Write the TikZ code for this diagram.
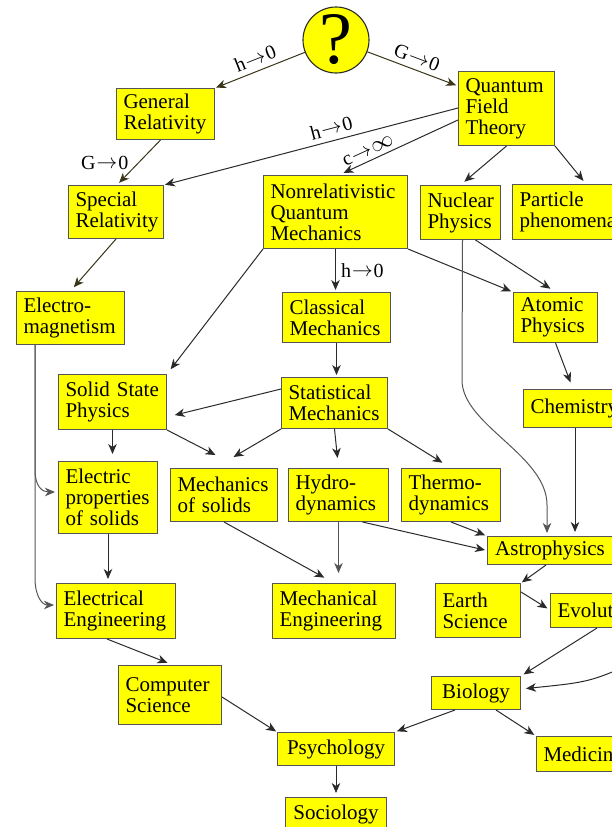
\documentclass[tikz,border=0pt]{standalone}
\usepackage{fontspec}
\setmainfont{Liberation Serif}
\usetikzlibrary{arrows.meta,calc}
\definecolor{boxyellow}{HTML}{FFFF00}
\definecolor{boxborder}{HTML}{555555}
\definecolor{linegray}{HTML}{2A2A2A}
\definecolor{oliveline}{HTML}{3A3418}
\hyphenpenalty=10000
\exhyphenpenalty=10000
\newcommand{\myto}{\kern1pt\raisebox{0.5pt}{$\rightarrow$}\kern1pt}
\begin{document}
\begin{tikzpicture}[x=1pt,y=-1pt,
  box/.style={draw=boxborder, line width=1pt, fill=boxyellow, anchor=north west,
    inner xsep=7pt, inner ysep=2pt, align=left, font=\fontsize{21}{21}\selectfont},
  cbox/.style={box, align=center},
  conn/.style={draw=linegray, line width=1pt, -{Stealth[length=10pt,width=8.5pt,inset=3pt]}},
  oconn/.style={conn, draw=oliveline},
  lbl/.style={font=\fontsize{20}{20}\selectfont, inner sep=2pt, text=black}]
\useasboundingbox (0,0) rectangle (612,827);
\clip (0,0) rectangle (612,827);

% nodes
\node[draw=linegray, line width=1.1pt, fill=boxyellow, circle, minimum size=66pt, inner sep=0pt,
  font=\fontsize{74}{74}\selectfont] (q) at (336,40) {\raisebox{-2pt}{?}};
\node[box, minimum width=98pt, minimum height=51pt, text width=84pt] (GR) at (116,88) {General\\Relativity};
\node[box, minimum width=96pt, minimum height=74pt, text width=82pt] (QFT) at (458,71) {Quantum\\Field\\Theory};
\node[box, minimum width=95pt, minimum height=53pt, text width=81pt] (SR) at (68,185) {Special\\Relativity};
\node[box, minimum width=144pt, minimum height=73pt, text width=130pt] (NRQM) at (263,175) {Nonrelativistic\\Quantum\\Mechanics};
\node[box, minimum width=80pt, minimum height=54pt, text width=66pt] (NP) at (420,185) {Nuclear\\Physics};
\node[box, minimum width=115pt, minimum height=55pt, text width=101pt] (PP) at (512,184) {Particle\\phenomena};
\node[box, minimum width=108pt, minimum height=53pt, text width=94pt] (EM) at (16,291) {Electro-\\magnetism};
\node[box, minimum width=108pt, minimum height=50pt, text width=94pt] (CM) at (282,292) {Classical\\Mechanics};
\node[box, minimum width=84pt, minimum height=50pt, text width=70pt] (AP) at (513,292) {Atomic\\Physics};
\node[box, minimum width=108pt, minimum height=55pt, text width=94pt] (SSP) at (58,374) {Solid State\\Physics};
\node[box, minimum width=106pt, minimum height=51pt, text width=92pt] (SM) at (281,377) {Statistical\\Mechanics};
\node[box, minimum width=108pt, minimum height=38pt, text width=94pt] (CH) at (523,389) {Chemistry};
\node[box, minimum width=99pt, minimum height=72pt, text width=85pt] (EP) at (58,461) {Electric\\properties\\of solids};
\node[box, minimum width=107pt, minimum height=53pt, text width=93pt] (MS) at (170,468) {Mechanics\\of solids};
\node[box, minimum width=100pt, minimum height=53pt, text width=86pt] (HD) at (288,468) {Hydro-\\dynamics};
\node[box, minimum width=99pt, minimum height=53pt, text width=85pt] (TD) at (401,468) {Thermo-\\dynamics};
\node[cbox, minimum width=125pt, minimum height=28pt, text width=111pt] (AS) at (487,536) {Astrophysics};
\node[box, minimum width=85pt, minimum height=54pt, text width=71pt] (ES) at (435,583) {Earth\\Science};
\node[box, minimum width=101pt, minimum height=34pt, text width=87pt] (EV) at (550,593) {Evolution};
\node[box, minimum width=119pt, minimum height=55pt, text width=105pt] (EE) at (56,583) {Electrical\\Engineering};
\node[box, minimum width=123pt, minimum height=55pt, text width=109pt] (ME) at (272,583) {Mechanical\\Engineering};
\node[box, minimum width=103pt, minimum height=59pt, text width=89pt] (CS) at (118,665) {Computer\\Science};
\node[cbox, minimum width=89pt, minimum height=33pt, text width=75pt] (BI) at (431,676) {Biology};
\node[cbox, minimum width=117pt, minimum height=33pt, text width=103pt] (PS) at (277,732) {Psychology};
\node[box, minimum width=97pt, minimum height=35pt, text width=83pt] (MD) at (536,736) {Medicine};
\node[cbox, minimum width=101pt, minimum height=34pt, text width=87pt] (SO) at (285,797) {Sociology};
\coordinate (offR) at (640,660);

% connectors
\draw[oconn, shorten >=1pt] (q) -- (GR.north east)
  node[lbl, midway, above=3pt, sloped] {h\myto0};
\draw[oconn, shorten >=2pt] (q) -- ($(QFT.north west)+(0,15)$)
  node[lbl, midway, above=3pt, sloped] {G\myto0};
\draw[conn, shorten >=1pt] ($(QFT.north west)+(0,37)$) -- (SR.north east)
  node[lbl, pos=0.42, above=3pt, sloped] {h\myto0};
\draw[conn, shorten >=5pt] ($(QFT.north west)+(0,49)$) -- ($(NRQM.north west)+(76,0)$)
  node[lbl, pos=0.72, above=2pt, sloped] {c\myto\raisebox{0.5pt}{\scalebox{1.1}{$\infty$}}};
\draw[oconn, shorten >=3pt] ($(GR.south)+(-5,0)$) -- ($(SR.north)+(1,0)$)
  node[lbl, midway, left=8pt] {G\myto0};
\draw[oconn, shorten >=5pt] (SR.south) -- (EM.north);
\draw[conn, shorten >=5pt] (QFT.south) -- (NP.north);
\draw[conn, shorten >=4pt] (QFT.south east) -- ($(PP.north west)+(74,0)$);
\draw[conn, shorten >=2pt] (NRQM.south) -- (NRQM.south |- CM.north)
  node[lbl, midway, right=3pt] {h\myto0};
\draw[conn, shorten >=2pt] (NRQM.south east) -- (AP.north west);
\draw[conn, shorten >=6pt] ($(NP.south)+(15,0)$) -- (AP.north);
\draw[conn, shorten >=6pt] (NRQM.south west) -- (SSP.north east);
\draw[conn, shorten >=3pt, draw=boxborder] ($(NP.south)+(2,0)$) -- (462,380)
  .. controls (462,425) and (547,455) .. (547,505) -- ($(AS.north west)+(60,0)$);
\draw[conn, shorten >=7pt] (AP.south) -- ($(CH.north west)+(50,0)$);
\draw[conn, shorten >=4pt] ($(CH.south west)+(52,0)$) -- ($(AS.north west)+(88,0)$);
\draw[conn, shorten >=2pt] (CM.south) -- (CM.south |- SM.north);
\draw[conn, shorten >=8pt] ($(SM.north west)+(0,12)$) -- ($(SSP.north east)+(0,43)$);
\draw[conn] (SM.south west) -- ($(MS.north)+(9.5,-11)$);
\draw[conn] (SSP.south east) -- ($(MS.north)+(-8.5,-13)$);
\draw[conn, shorten >=7pt] (SSP.south) -- (SSP.south |- EP.north);
\draw[conn, shorten >=10pt] (SM.south) -- (HD.north);
\draw[conn, shorten >=10pt] (SM.south east) -- (TD.north);
\draw[conn, shorten >=3pt, draw=boxborder] ($(EM.south west)+(19,0)$) -- (35,470)
  .. controls (35,486) and (42,492) .. ($(EP.north west)+(0,31)$);
\draw[conn, shorten >=2pt, draw=boxborder] ($(EM.south west)+(19,0)$) -- (35,578)
  .. controls (35,596) and (42,605) .. ($(EE.north west)+(0,22)$);
\draw[conn, shorten >=4pt] (EP.south) -- (EP.south |- EE.north);
\draw[conn, shorten >=11pt] (MS.south) -- (ME.north);
\draw[conn, shorten >=10pt, draw=boxborder] (HD.south) -- (HD.south |- ME.north);
\draw[conn, shorten >=2pt] ($(HD.south)+(24,0)$) -- (AS.west);
\draw[conn, shorten >=2pt] (TD.south) -- (AS.north west);
\draw[conn, shorten >=1pt] ($(AS.south)+(-4,0)$) -- (ES.north east);
\draw[conn, shorten >=3pt] ($(ES.north east)+(0,9)$) -- ($(EV.north west)+(0,17)$);
\draw[conn, shorten >=3pt] ($(EV.south west)+(47,0)$) -- (BI.north east);
\draw[conn, shorten >=5pt] (offR) .. controls (590,682) .. ($(BI.east)+(0,-4)$);
\draw[conn, shorten >=2pt] ($(BI.south west)+(24,0)$) -- (PS.north east);
\draw[conn, shorten >=2pt] ($(BI.south west)+(65,0)$) -- (MD.north west);
\draw[conn, shorten >=1pt] ($(CS.north east)+(0,32)$) -- (PS.north west);
\draw[conn, shorten >=6pt] ($(EE.south west)+(51,0)$) -- ($(CS.north west)+(55,0)$);
\draw[conn, shorten >=4pt] (PS.south) -- (PS.south |- SO.north);
\end{tikzpicture}
\end{document}
